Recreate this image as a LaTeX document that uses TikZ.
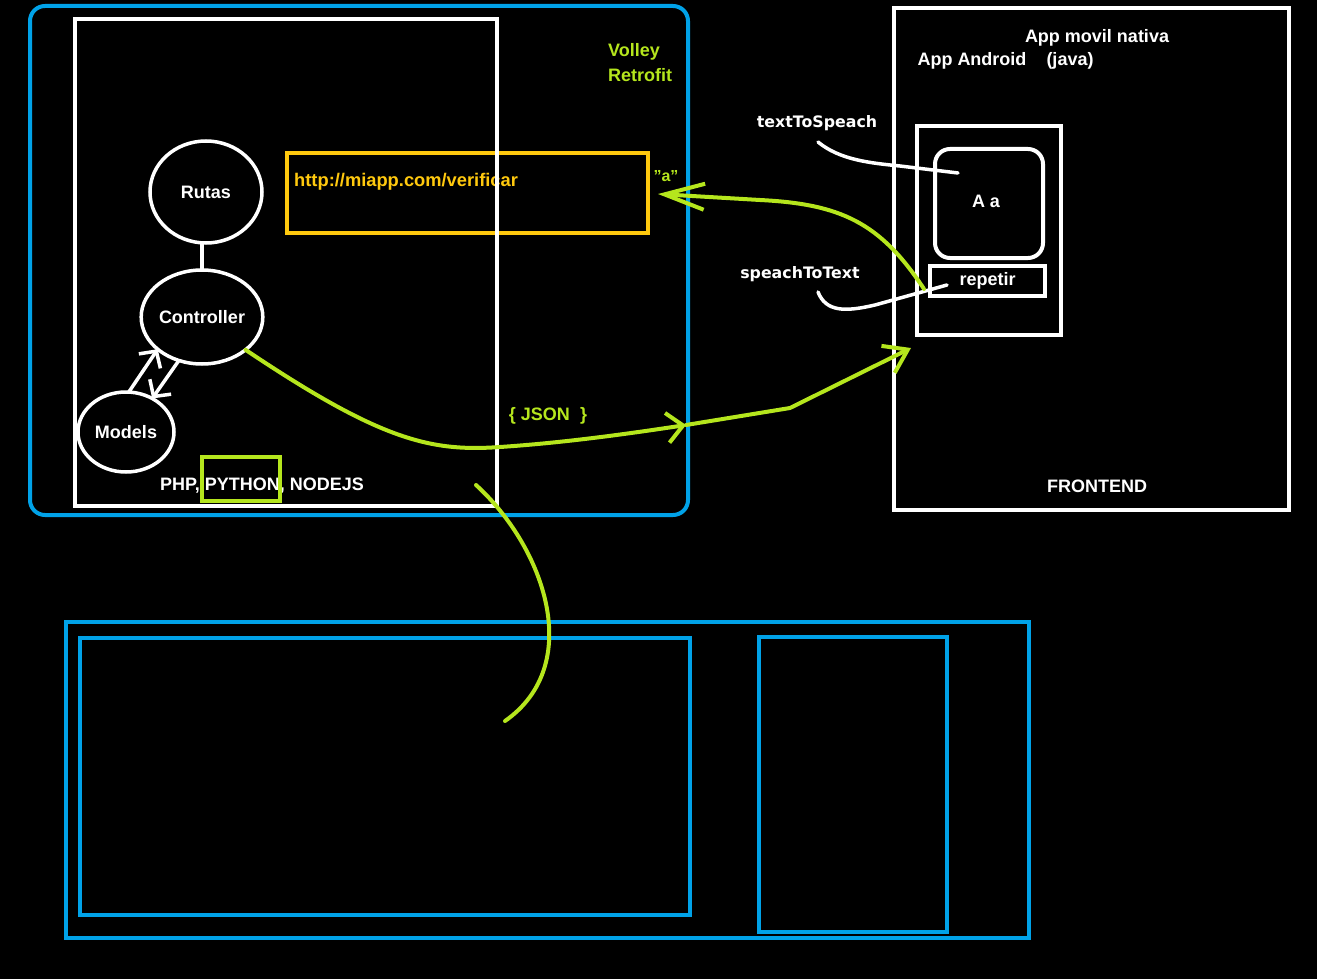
\documentclass[tikz,border=0pt]{standalone}
\usepackage{fontspec}
\setmainfont{Liberation Sans}
\newfontfamily\wideface{DejaVu Sans}
\usetikzlibrary{arrows.meta,shapes.geometric}
\definecolor{pblue}{RGB}{0,162,232}
\definecolor{porange}{RGB}{255,201,14}
\definecolor{pgreen}{RGB}{181,230,29}
\begin{document}
\begin{tikzpicture}[x=1pt,y=-1pt,
  box/.style={draw=white,line width=4pt,inner sep=0pt,outer sep=0pt,rectangle},
  bbox/.style={draw=pblue,line width=4pt,inner sep=0pt,outer sep=0pt,rectangle},
  oval/.style={draw=white,line width=3.5pt,ellipse,inner sep=0pt,outer sep=0pt,text=white,font=\bfseries\fontsize{18}{18}\selectfont},
  lbl/.style={text=white,inner sep=0pt,font=\bfseries\fontsize{18}{18}\selectfont},
  glbl/.style={text=pgreen,inner sep=0pt,font=\bfseries\fontsize{18}{18}\selectfont},
  wlbl/.style={text=white,inner sep=0pt,font=\wideface\bfseries\fontsize{15.8}{15.8}\selectfont},
  garrow/.style={draw=pgreen,line width=4pt,line cap=round,line join=round},
  warrow/.style={draw=white,line width=3.5pt,line cap=round,line join=round}
]
\fill[black] (0,0) rectangle (1317,979);
\useasboundingbox (0,0) rectangle (1317,979);

% backend
\node[box,draw=porange,minimum width=361,minimum height=80] (url) at (467.5,193) {};
\node[text=porange,inner sep=0pt,font=\bfseries\fontsize{18.3}{18.3}\selectfont,anchor=west] (urltxt) at (294,182) {http://miapp.com/verificar};
\node[box,minimum width=422,minimum height=487] (backend) at (286,262.5) {};
\node[bbox,rounded corners=15pt,minimum width=658,minimum height=509] (server) at (359,260.5) {};

\node[oval,minimum width=112,minimum height=102] (rutas) at (206,192) {Rutas};
\node[oval,minimum width=116,minimum height=94] (ctrl) at (202,317) {Controller};
\node[oval,minimum width=96,minimum height=80] (models) at (126,432) {Models};

\draw[warrow] (ctrl.north) -- (ctrl.north |- rutas.south);
\draw[warrow,-{Straight Barb[length=12pt,width=26pt,line width=3.5pt]}] (models.86) -- (ctrl.216);
\draw[warrow,-{Straight Barb[length=12pt,width=26pt,line width=3.5pt]}] (ctrl.242) -- (models.52);

\node[lbl] (langs) at (262,486) {PHP, PYTHON, NODEJS};
\node[box,draw=pgreen,minimum width=78,minimum height=44] (python) at (241,479) {};

\node[glbl,anchor=west] (volley) at (608,52) {Volley};
\node[glbl,anchor=west] (retrofit) at (608,75) {Retrofit};
\node[glbl,font=\bfseries\fontsize{16}{16}\selectfont] (qa) at (666,176) {\symbol{34}a\symbol{34}};
\node[glbl] (json) at (548,416) {\{ JSON \ \}};

% frontend
\node[box,minimum width=395,minimum height=502] (front) at (1091.5,259) {};
\node[lbl] (movil) at (1097,38) {App movil nativa};
\node[lbl] (android) at (972,61) {App Android};
\node[lbl] (java) at (1070,61) {(java)};
\node[lbl] (frontend) at (1097,486) {FRONTEND};
\node[box,minimum width=144,minimum height=209] (phone) at (989,230.5) {};
\node[box,rounded corners=15pt,minimum width=108,minimum height=109] (screen) at (989,203.5) {};
\node[lbl] (aa) at (986,201) {A a};
\node[box,minimum width=115,minimum height=30,text=white,font=\bfseries\fontsize{18}{18}\selectfont] (repetir) at (987.5,281) {repetir};

\node[wlbl] (tts) at (817,123) {textToSpeach};
\node[wlbl] (stt) at (800,274) {speachToText};
\coordinate (ttsstart) at (818,142);
\coordinate (ttsend) at (958,173);
\coordinate (sttstart) at (818,292);
\coordinate (sttend) at (947,285);
\draw[warrow] (ttsstart) .. controls (840,160) and (870,163) .. (900,166) -- (ttsend);
\draw[warrow] (sttstart) .. controls (826,312) and (845,312) .. (875,305) -- (sttend);

% green connectors
\coordinate (ret) at (924,289);
\coordinate (qtip) at (658,194);
\draw[garrow,-{Straight Barb[length=40pt,width=26pt,line width=4pt]}] (ret) .. controls (880,222) and (840,204) .. (760,200) -- (qtip);

\coordinate (mid) at (686,425);
\coordinate (bend) at (790,408);
\coordinate (fin) at (911,348);
\draw[garrow,-{Straight Barb[length=16pt,width=30pt,line width=4pt]}] (ctrl.-37) .. controls (380,440) and (430,452) .. (500,447) .. controls (560,443) and (620,435) .. (mid);
\draw[garrow,-{Straight Barb[length=22pt,width=30pt,line width=4pt]}] (mid) -- (bend) -- (fin);

% bottom
\node[bbox,minimum width=963,minimum height=316] (db) at (547.5,780) {};
\node[bbox,minimum width=610,minimum height=277] (dbleft) at (385,776.5) {};
\node[bbox,minimum width=188,minimum height=295] (dbright) at (853,784.5) {};
\coordinate (arcstart) at (476,485);
\coordinate (arcend) at (505,721);
\draw[garrow] (arcstart) .. controls (545,548) and (585,665) .. (arcend);
\end{tikzpicture}
\end{document}
